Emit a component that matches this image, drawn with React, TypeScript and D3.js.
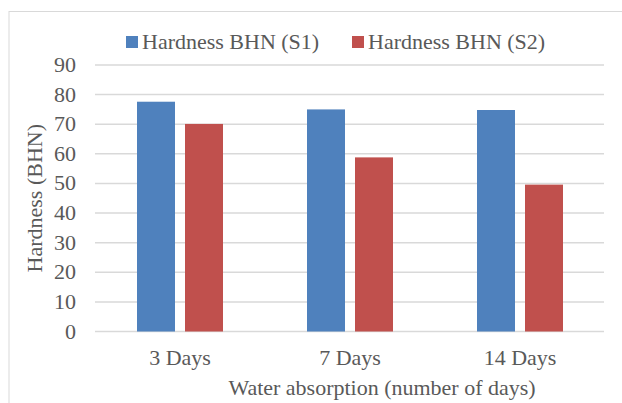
import React from "react";
import * as d3 from "d3";

const categories = ["3 Days", "7 Days", "14 Days"];
const seriesNames = ["Hardness BHN (S1)", "Hardness BHN (S2)"];
const s1Values = [77.6, 75.0, 74.8];
const s2Values = [70.1, 58.8, 49.6];
const yTicks = [0, 10, 20, 30, 40, 50, 60, 70, 80, 90];
const colors = ["#4f81bd", "#c0504d"];

const W = 622;
const H = 403;
const FONT = "'Liberation Serif', 'DejaVu Serif', serif";
const TEXT = "#595959";
const SX = 1.1;

function Txt({ x, y, anchor = "start", rotate = 0, children }: any) {
  return (
    <text
      transform={`translate(${x}, ${y}) rotate(${rotate}) scale(${SX}, 1)`}
      dy="0.35em"
      textAnchor={anchor}
      fontFamily={FONT}
      fontSize={20}
      fill={TEXT}
    >
      {children}
    </text>
  );
}

export default function App() {
  const x0 = d3.scaleBand<string>().domain(categories).range([95, 605]).paddingInner(0).paddingOuter(0);
  const y = d3.scaleLinear().domain([0, 90]).range([331.5, 65]);
  const series = [s1Values, s2Values];
  const barW = 38;
  const gap = 10;

  return (
    <svg width={W} height={H} style={{ position: "absolute", left: 0, top: 0, background: "#fff" }}>
      <rect x={9} y={11.5} width={W + 10} height={H + 10} fill="#fff" stroke="#d9d9d9" strokeWidth={1} />
      {yTicks.map((t) => (
        <g key={t}>
          <line x1={95} x2={604} y1={y(t)} y2={y(t)} stroke="#d9d9d9" strokeWidth={1.5} />
          <Txt x={76} y={y(t)} anchor="end">
            {t}
          </Txt>
        </g>
      ))}
      {categories.map((c, i) => {
        const cx = (x0(c) as number) + x0.bandwidth() / 2;
        return (
          <g key={c}>
            {series.map((vals, si) => {
              const bx = si === 0 ? cx - gap / 2 - barW : cx + gap / 2;
              return (
                <rect
                  key={si}
                  x={bx}
                  y={y(vals[i])}
                  width={barW}
                  height={y(0) - y(vals[i])}
                  fill={colors[si]}
                />
              );
            })}
            <Txt x={cx} y={358} anchor="middle">
              {c}
            </Txt>
          </g>
        );
      })}
      <Txt x={382} y={388} anchor="middle">
        Water absorption (number of days)
      </Txt>
      <Txt x={35} y={y(45)} anchor="middle" rotate={-90}>
        Hardness (BHN)
      </Txt>
      {seriesNames.map((n, i) => {
        const lx = i === 0 ? 126 : 352;
        return (
          <g key={n}>
            <rect x={lx} y={36} width={12} height={12} fill={colors[i]} />
            <Txt x={lx + 16} y={42}>
              {n}
            </Txt>
          </g>
        );
      })}
    </svg>
  );
}
